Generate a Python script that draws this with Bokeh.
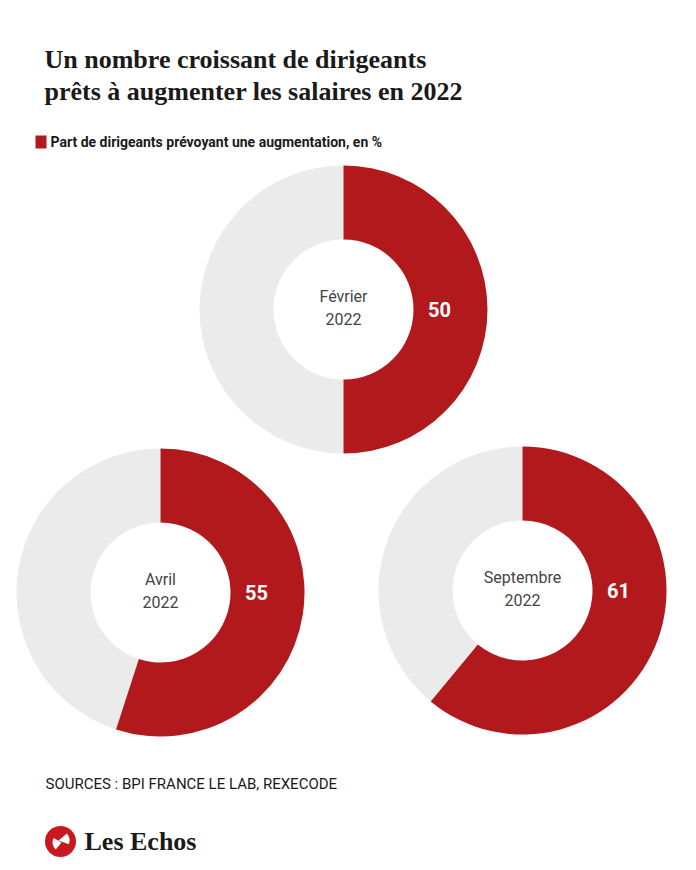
import numpy as np
from bokeh.plotting import figure
from bokeh.models import Range1d, ColumnDataSource
from bokeh.core.properties import value
from bokeh.embed import file_html
from bokeh.resources import INLINE

# ---- data ----
title_lines = ["Un nombre croissant de dirigeants", "prêts à augmenter les salaires en 2022"]
legend_label = "Part de dirigeants prévoyant une augmentation, en %"
months = ["Février", "Avril", "Septembre"]
years = ["2022", "2022", "2022"]
shares = [50, 55, 61]
source_text = "SOURCES : BPI FRANCE LE LAB, REXECODE"
brand = "Les Echos"

# ---- style / layout ----
RED = "#B2191C"
GREY = "#EBEBEB"
W, H = 696, 870
cx = [343, 160, 522]
cy_px = [309, 592, 590]
R_OUT, R_IN = 144, 70


def Y(y):
    return H - y


cy = [Y(v) for v in cy_px]
theta = [s / 100 * 2 * np.pi for s in shares]

p = figure(width=W, height=H, x_range=Range1d(0, W), y_range=Range1d(0, H),
           output_backend="svg", toolbar_location=None, min_border=0)
p.axis.visible = False
p.grid.visible = False
p.outline_line_color = None
p.background_fill_color = "white"

red_src = ColumnDataSource(dict(x=cx, y=cy,
                                start=[np.pi / 2 - t for t in theta],
                                end=[np.pi / 2] * 3))
grey_src = ColumnDataSource(dict(x=cx, y=cy,
                                 start=[np.pi / 2] * 3,
                                 end=[np.pi / 2 - t + 2 * np.pi for t in theta]))
p.annular_wedge(x="x", y="y", inner_radius=R_IN, outer_radius=R_OUT,
                start_angle="start", end_angle="end", source=grey_src,
                fill_color=GREY, line_color=None)
p.annular_wedge(x="x", y="y", inner_radius=R_IN, outer_radius=R_OUT,
                start_angle="start", end_angle="end", source=red_src,
                fill_color=RED, line_color=None)

# value labels
lab_src = ColumnDataSource(dict(x=[c + 96 for c in cx], y=cy, t=[str(s) for s in shares]))
p.text(x="x", y="y", text="t", source=lab_src, text_color="white",
       text_font=value("Roboto"), text_font_style="bold", text_font_size="20px",
       text_align="center", text_baseline="middle")

# center labels
m_src = ColumnDataSource(dict(x=cx, y=[c + 13 for c in cy], t=months))
y_src = ColumnDataSource(dict(x=cx, y=[c - 9 for c in cy], t=years))
for src in (m_src, y_src):
    p.text(x="x", y="y", text="t", source=src, text_color="#444444",
           text_font=value("Roboto"), text_font_size="16px",
           text_align="center", text_baseline="middle")

# title
p.text(x=[44, 44], y=[Y(59), Y(91)], text=title_lines, text_color="#1a1a1a",
       text_font=value("Liberation Serif"), text_font_style="bold",
       text_font_size="26px", text_baseline="middle")

# legend
p.rect(x=[40.5], y=[Y(141.5)], width=11, height=13, fill_color=RED, line_color=None)
p.text(x=[50], y=[Y(141)], text=[legend_label], text_color="#1a1a1a",
       text_font=value("Roboto"), text_font_style="bold", text_font_size="14px",
       text_baseline="middle")

# source
p.text(x=[45], y=[Y(783)], text=[source_text], text_color="#1a1a1a",
       text_font=value("Roboto"), text_font_size="15px", text_baseline="middle")

# logo
p.scatter(x=[60], y=[Y(841)], size=31, marker="circle", fill_color="#C8191E", line_color=None)
p.wedge(x=[61], y=[Y(842)], radius=9, start_angle=[np.radians(150)], end_angle=[np.radians(230)],
        fill_color="white", line_color=None)
p.wedge(x=[58], y=[Y(840)], radius=11, start_angle=[np.radians(-20)], end_angle=[np.radians(40)],
        fill_color="white", line_color=None)
p.text(x=[84], y=[Y(841)], text=[brand], text_color="#1a1a1a",
       text_font=value("Liberation Serif"), text_font_style="bold", text_font_size="26px",
       text_baseline="middle")

open("out.html", "w").write(file_html(p, INLINE))
